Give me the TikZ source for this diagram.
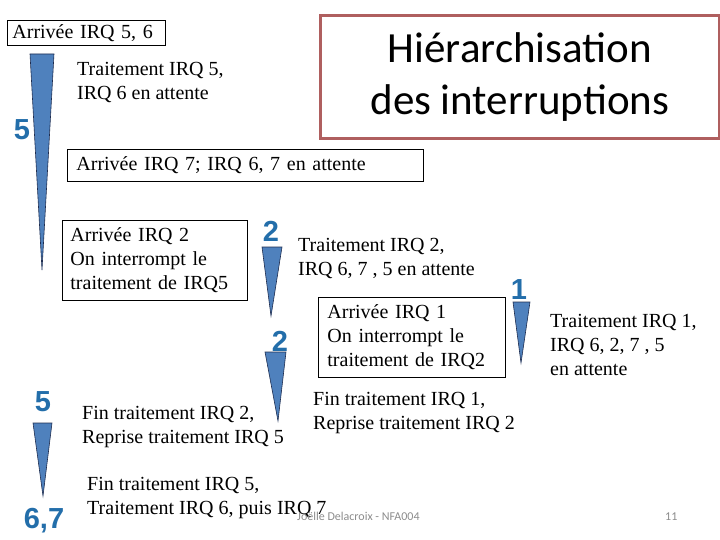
\documentclass[tikz,border=0pt]{standalone}
\usepackage{fontspec}
\setmainfont{Liberation Serif}
\newfontfamily\titlefont{Carlito}
\newfontfamily\digitfont{Liberation Sans}
\definecolor{wedgeblue}{RGB}{79,129,189}
\definecolor{wedgeline}{RGB}{30,45,80}
\definecolor{digitblue}{RGB}{35,110,170}
\definecolor{titlered}{RGB}{175,95,95}
\definecolor{footgray}{RGB}{140,140,140}
\tikzset{
  txt/.style={anchor=base west, inner sep=0pt, align=left, font=\fontsize{20}{24}\selectfont},
  box/.style={draw=black, line width=0.8pt, anchor=north west, align=left, inner ysep=0pt, font=\fontsize{20}{24}\selectfont},
  digit/.style={inner sep=0pt, text=digitblue, font=\digitfont\bfseries\fontsize{29}{29}\selectfont},
  wedge/.style={fill=wedgeblue, draw=wedgeline, line width=0.6pt, line join=miter},
  foot/.style={anchor=base west, inner sep=0pt, text=footgray, font=\titlefont\fontsize{12}{14}\selectfont}
}
\begin{document}
\begin{tikzpicture}[x=1pt,y=-1pt]
\useasboundingbox (0,0) rectangle (720,540);
% title
\node[draw=titlered, line width=2.8pt, anchor=north west, minimum width=399pt, minimum height=123pt, align=center, inner sep=0pt, font=\titlefont\fontsize{43}{52}\selectfont] (title) at (319,14) {Hiérarchisation\\des interruptions};
% boxes
\node[box, inner xsep=5pt, text width=148pt, minimum height=25pt] (b1) at (7,20) {Arrivée IRQ 5, 6};
\node[box, inner xsep=9pt, text width=338pt, minimum height=32pt] (b2) at (67,149) {Arrivée IRQ 7; IRQ 6, 7 en attente};
\node[box, inner xsep=8pt, text width=169pt, minimum height=80pt] (b3) at (62,220) {Arrivée IRQ 2\\On interrompt le\\traitement de IRQ5};
\node[box, inner xsep=9pt, text width=169pt, minimum height=80pt] (b4) at (318,297) {Arrivée IRQ 1\\On interrompt le\\traitement de IRQ2};
% free texts (anchor = baseline of last line)
\node[txt] (t1) at (77,100) {Traitement IRQ 5,\\IRQ 6 en attente};
\node[txt] (t2) at (298,275) {Traitement IRQ 2,\\IRQ 6, 7 , 5 en attente};
\node[txt] (t3) at (550,375) {Traitement IRQ 1,\\IRQ 6, 2, 7 , 5\\en attente};
\node[txt] (t4) at (313,429) {Fin traitement IRQ 1,\\Reprise traitement IRQ 2};
\node[txt] (t5) at (82,443) {Fin traitement IRQ 2,\\Reprise traitement IRQ 5};
\node[txt] (t6) at (87,514) {Fin traitement IRQ 5,\\Traitement IRQ 6, puis IRQ 7};
% wedges
\draw[wedge] (30,54) -- (54,54) -- (42,270) -- cycle;
\draw[wedge] (262,247) -- (282,247) -- (271,316) -- cycle;
\draw[wedge] (265,352) -- (286,352) -- (278,421) -- cycle;
\draw[wedge] (513,302) -- (530,302) -- (521,363) -- cycle;
\draw[wedge] (33,423) -- (52,423) -- (43,496) -- cycle;
% digits
\node[digit] (d1) at (22,130) {5};
\node[digit] (d2) at (271,231) {2};
\node[digit] (d3) at (280,341) {2};
\node[digit] (d4) at (519,290) {1};
\node[digit] (d5) at (43,402) {5};
\node[digit] (d6) at (44,521) {6,7};
% footer
\node[foot] (f1) at (297,520) {Joëlle Delacroix - NFA004};
\node[foot] (f2) at (665,520) {11};
\end{tikzpicture}
\end{document}
